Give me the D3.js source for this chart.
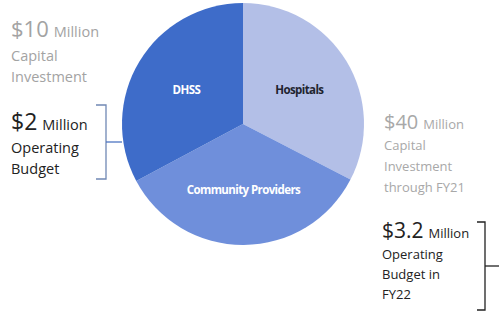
<!DOCTYPE html>
<html>
<head>
<meta charset="utf-8">
<script src="https://cdn.jsdelivr.net/npm/d3@7"></script>
<style>
  body { margin: 0; background: #fff; }
  text { font-family: "Open Sans", "Noto Sans", sans-serif; }
</style>
</head>
<body>
<div id="chart"></div>
<script>
// slices, clockwise from 12 o'clock
const sliceNames = ["Hospitals", "Community Providers", "DHSS"];
const sliceShares = [32.6, 34.6, 32.8];
const sliceColors = ["#b3bfe7", "#6f8fdb", "#3e6cc9"];
const labelColors = ["#1f2430", "#ffffff", "#ffffff"];

// side notes
const leftCapital = ["$10", "Million", "Capital", "Investment"];
const leftOperating = ["$2", "Million", "Operating", "Budget"];
const rightCapital = ["$40", "Million", "Capital", "Investment", "through FY21"];
const rightOperating = ["$3.2", "Million", "Operating", "Budget in", "FY22"];

const width = 499, height = 318;
const svg = d3.select("#chart").append("svg")
    .attr("width", width)
    .attr("height", height);

/***PIE***/
const cx = 243, cy = 124, radius = 121;
const pie = d3.pie().sort(null).value(d => d)(sliceShares);
const arc = d3.arc().innerRadius(0).outerRadius(radius);
const labelArc = d3.arc().innerRadius(0).outerRadius(132);

const g = svg.append("g").attr("transform", "translate(" + cx + "," + cy + ")");
g.selectAll("path.slice")
    .data(pie)
    .enter().append("path")
    .attr("class", "slice")
    .attr("d", arc)
    .attr("fill", (d, i) => sliceColors[i]);

g.selectAll("text.lbl")
    .data(pie)
    .enter().append("text")
    .attr("class", "lbl")
    .attr("transform", d => "translate(" + labelArc.centroid(d) + ")")
    .attr("text-anchor", "middle")
    .attr("dy", "0.35em")
    .attr("fill", (d, i) => labelColors[i])
    .attr("font-size", 11.5)
    .attr("font-weight", "bold")
    .attr("letter-spacing", -0.6)
    .text((d, i) => sliceNames[i]);

/***NOTES***/
function note(x, y0, lines, color, bigSize, smallSize, lineH, firstGap) {
    const t = svg.append("text").attr("fill", color);
    const first = t.append("tspan").attr("x", x).attr("y", y0);
    first.append("tspan").attr("font-size", bigSize).text(lines[0]);
    first.append("tspan").attr("font-size", smallSize).attr("dx", 5).text(lines[1]);
    lines.slice(2).forEach((l, i) => {
        t.append("tspan")
            .attr("x", x)
            .attr("y", y0 + firstGap + i * lineH)
            .attr("font-size", smallSize)
            .text(l);
    });
}

note(11, 37, leftCapital, "#a3a3a3", 22, 14.5, 21, 24);
note(11, 130, leftOperating, "#222222", 23, 14.5, 21, 23);
note(384, 129, rightCapital, "#a8a8a8", 20, 13, 21, 21);
note(382, 238, rightOperating, "#222222", 21, 13, 20, 21);

/***BRACKETS***/
function bracket(x0, x1, y0, y1, tickEnd, color, tickColor) {
    svg.append("path")
        .attr("d", "M" + x0 + "," + y0 + "H" + x1 + "V" + y1 + "H" + x0)
        .attr("fill", "none")
        .attr("stroke", color)
        .attr("stroke-width", 1.3);
    const ym = (y0 + y1) / 2;
    svg.append("line")
        .attr("x1", x1).attr("x2", tickEnd)
        .attr("y1", ym).attr("y2", ym)
        .attr("stroke", tickColor)
        .attr("stroke-width", 1.3);
}

bracket(96, 106, 105, 179, 122, "#7088b4", "#4d74c2");
bracket(477, 485, 222, 310, 502, "#222222", "#222222");
</script>
</body>
</html>
